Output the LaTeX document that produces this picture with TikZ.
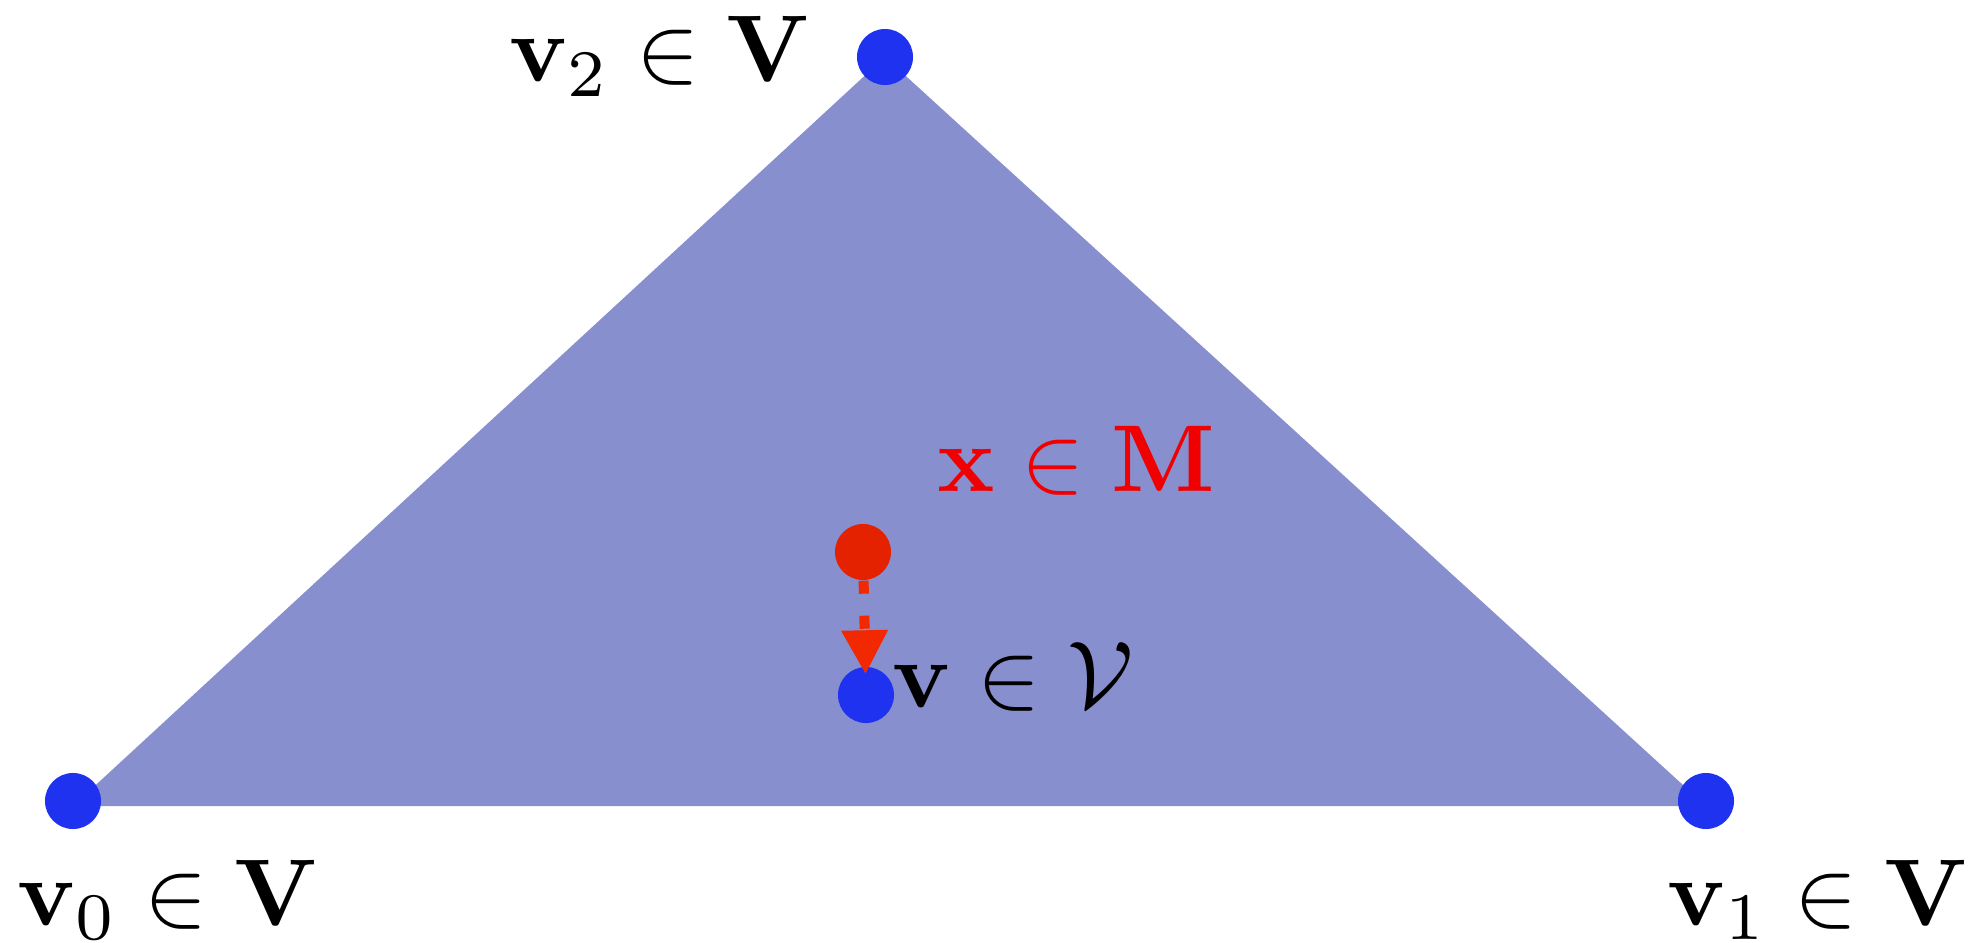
\documentclass[tikz,border=0pt]{standalone}
\usepackage{amsmath,amssymb}
\usepackage{tikz}
\usetikzlibrary{arrows.meta,calc,positioning}
\definecolor{facecol}{RGB}{135,143,206}
\definecolor{dotblue}{RGB}{30,50,240}
\definecolor{dotred}{RGB}{228,34,0}
\definecolor{arrred}{RGB}{242,40,0}
\definecolor{txtred}{RGB}{240,0,0}
\tikzset{nodv/.style={circle,fill=dotblue,inner sep=0pt,minimum size=0.56cm}}
\tikzset{nodx/.style={circle,fill=dotred,inner sep=0pt,minimum size=0.56cm}}
\tikzset{lab/.style={anchor=base,inner sep=0pt,scale=2.7}}

\begin{document}
\begin{tikzpicture}[x=0.01cm,y=-0.01cm]
\useasboundingbox (0,0) rectangle (1981,943);
% face
\coordinate (f0) at (73,806);
\coordinate (f1) at (1706,806);
\coordinate (f2) at (885,57);
\fill[facecol] (f0) -- (f1) -- (f2) -- cycle;

\node [nodv] at (73,801) (v0) {};
\node [nodv] at (1706,801) (v1) {};
\node [nodv] at (885,57) (v2) {};
\node [nodv] at (866,695) (v) {};
\node [nodx] at (863,552) (x) {};

\draw[arrred, line width=0.1cm, dash pattern=on 0.13cm off 0.22cm, shorten >=-0.08cm,
	-{Triangle[length=0.44cm,width=0.44cm]}] (x) -- (v);

\node [lab] at (168,925) (lv0) {$\mathbf{v}_0 \in \mathbf{V}$};
\node [lab] at (1818,925) (lv1) {$\mathbf{v}_1 \in \mathbf{V}$};
\node [lab] at (660,82) (lv2) {$\mathbf{v}_2 \in \mathbf{V}$};
\node [lab,text=txtred] at (1076,492) (lx) {$\mathbf{x} \in \mathbf{M}$};
\node [lab] at (1013,708) (lv) {$\mathbf{v} \in \mathcal{V}$};
\end{tikzpicture}
\end{document}
